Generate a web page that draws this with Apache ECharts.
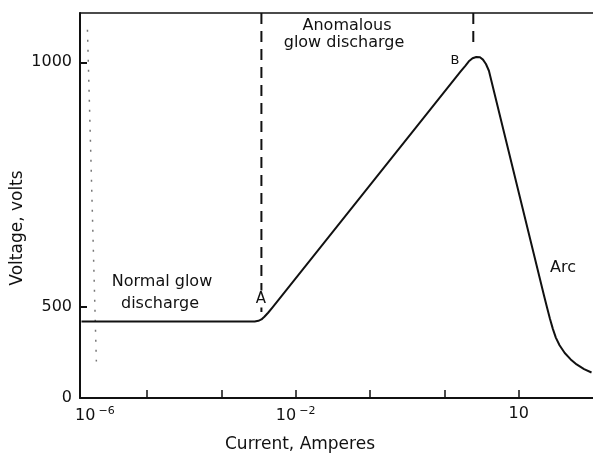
<!DOCTYPE html>
<html>
<head>
<meta charset="utf-8">
<script src="https://cdn.jsdelivr.net/npm/echarts@6/dist/echarts.min.js"></script>
<style>
  html, body { margin: 0; padding: 0; background: #fff; }
  #chart { width: 593px; height: 459px; }
</style>
</head>
<body>
<div id="chart"></div>
<script>
// Glow-discharge / arc characteristic: voltage against log10 of current.
const logCurrent = [-4.88, -2.55, -2.50, -2.46, -2.42, -2.37, -2.31, 0.22, 0.28, 0.33, 0.38, 0.43, 0.48, 0.52, 0.56, 0.60, 1.34, 1.38, 1.42, 1.46, 1.50, 1.55, 1.62, 1.70, 1.78, 1.88, 1.98];
const voltage    = [228,   228,   230,   234,   242,   254,   270,   973,  989,  1003, 1012, 1016, 1015, 1008, 995,  975,  306,  271,  237,  206,  180,  157,  134,  115,  100,  86,   76];

// Region boundaries A and B (log10 current) and where each dashed line stops
const boundaryLog = [-2.46, 0.39];
const boundaryEnd = [234, 1040];

// Faint dotted trace near the left edge
const traceLog = [-4.8, -4.68];
const traceVolt = [1097, 109];

// Axis ticks and labels
const xTickValues = [-4, -3, -2, -1, 0, 1];
const xLabelValues = [-4.7, -2, 1];
const xLabelTexts = ['10{s|−6}', '10{s|−2}', '10'];
const yTickValues = [272, 1000];
const yLabelValues = [0, 272, 1000];
const yLabelTexts = ['0', '500', '1000'];

const X_MIN = -4.9, X_MAX = 2.0, Y_MAX = 1147;
const FONT = '"DejaVu Sans", sans-serif';
const INK = '#111';

const chart = echarts.init(document.getElementById('chart'), null, { renderer: 'canvas' });

const boundarySeries = boundaryLog.map((x, i) => ({
  type: 'line',
  data: [[x, Y_MAX], [x, boundaryEnd[i]]],
  symbol: 'none',
  silent: true,
  z: 3,
  lineStyle: { color: INK, width: 2, type: [11, 7] }
}));

const annotations = [
  { x: 347, y: 26, text: 'Anomalous', size: 16 },
  { x: 344, y: 43, text: 'glow discharge', size: 16 },
  { x: 162, y: 282, text: 'Normal glow', size: 16 },
  { x: 160, y: 304, text: 'discharge', size: 16 },
  { x: 455, y: 61, text: 'B', size: 13 },
  { x: 563, y: 268, text: 'Arc', size: 16 },
  { x: 300, y: 445, text: 'Current, Amperes', size: 17 }
];

const graphics = annotations.map(a => ({
  type: 'text',
  x: a.x, y: a.y, z: 10,
  style: { text: a.text, font: `${a.size}px ${FONT}`, fill: INK, align: 'center', verticalAlign: 'middle' }
}));
graphics.push({
  type: 'text', x: 261, y: 299, z: 10,
  style: { text: 'A', font: `15px ${FONT}`, fill: INK, align: 'center', verticalAlign: 'middle',
           backgroundColor: '#fff', padding: [1, 2] }
});
graphics.push({
  type: 'text', x: 18, y: 228, rotation: Math.PI / 2, z: 10,
  style: { text: 'Voltage, volts', font: `17px ${FONT}`, fill: INK, align: 'center', verticalAlign: 'middle' }
});

chart.setOption({
  animation: false,
  backgroundColor: '#fff',
  grid: { left: 80, right: 0, top: 13, bottom: 61 },
  xAxis: [
    {
      type: 'value', min: X_MIN, max: X_MAX,
      axisLine: { onZero: false, lineStyle: { color: INK, width: 2 } },
      axisTick: { inside: true, length: 8, customValues: xTickValues, lineStyle: { color: INK, width: 1.5 } },
      axisLabel: {
        customValues: xLabelValues,
        margin: 8,
        color: INK,
        fontFamily: FONT,
        fontSize: 16,
        formatter: v => xLabelTexts[xLabelValues.indexOf(v)] || '',
        rich: {
          s: { fontFamily: FONT, fontSize: 11, color: INK, padding: [0, 0, 9, 3] }
        }
      },
      splitLine: { show: false }
    },
    {
      type: 'value', position: 'top', min: X_MIN, max: X_MAX,
      axisLine: { show: true, onZero: false, lineStyle: { color: INK, width: 1.5 } },
      axisTick: { show: false }, axisLabel: { show: false }, splitLine: { show: false }
    }
  ],
  yAxis: {
    type: 'value', min: 0, max: Y_MAX,
    axisLine: { show: true, onZero: false, lineStyle: { color: INK, width: 2 } },
    axisTick: { show: true, inside: true, length: 7, customValues: yTickValues, lineStyle: { color: INK, width: 2 } },
    axisLabel: {
      customValues: yLabelValues,
      margin: 8, color: INK, fontFamily: FONT, fontSize: 16,
      formatter: v => yLabelTexts[yLabelValues.indexOf(v)] || ''
    },
    splitLine: { show: false }
  },
  series: [
    {
      type: 'line',
      data: logCurrent.map((x, i) => [x, voltage[i]]),
      symbol: 'none',
      smooth: false,
      z: 4,
      lineStyle: { color: INK, width: 2, join: 'round' }
    },
    ...boundarySeries,
    {
      type: 'line',
      data: traceLog.map((x, i) => [x, traceVolt[i]]),
      symbol: 'none',
      silent: true,
      z: 2,
      lineStyle: { color: '#777', width: 1.5, type: [2, 8] }
    }
  ],
  graphic: graphics
});
</script>
</body>
</html>
